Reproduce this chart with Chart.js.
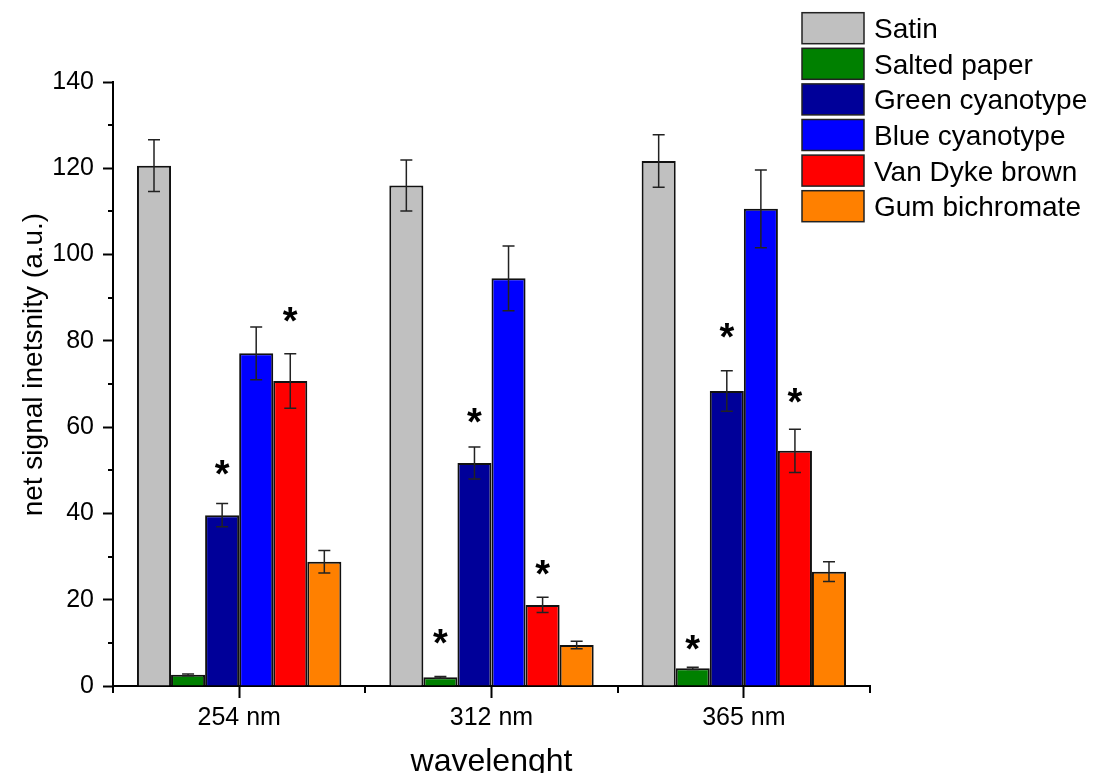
<!DOCTYPE html>
<html>
<head>
<meta charset="utf-8">
<script src="https://cdn.jsdelivr.net/npm/chart.js@4"></script>
<style>
  html, body { margin: 0; padding: 0; background: #ffffff; }
  #wrap { width: 1093px; height: 773px; }
</style>
</head>
<body>
<div id="wrap"><canvas id="c" width="1093" height="773"></canvas></div>
<script>
// ---- data ----
const categories = ['254 nm', '312 nm', '365 nm'];
const seriesNames = ['Satin', 'Salted paper', 'Green cyanotype', 'Blue cyanotype', 'Van Dyke brown', 'Gum bichromate'];
const xTitle = 'wavelenght';
const yTitle = 'net signal inetsnity (a.u.)';

const satin        = [120.6, 116.0, 121.7];
const satinErr     = [6.0, 5.9, 6.1];
const salted       = [2.6, 2.0, 4.1];
const saltedErr    = [0.2, 0.2, 0.25];
const greenCy      = [39.6, 51.7, 68.4];
const greenCyErr   = [2.7, 3.7, 4.7];
const blueCy       = [77.1, 94.5, 110.6];
const blueCyErr    = [6.1, 7.5, 9.0];
const vanDyke      = [70.7, 18.8, 54.5];
const vanDykeErr   = [6.3, 1.75, 5.0];
const gum          = [28.8, 9.5, 26.5];
const gumErr       = [2.6, 0.85, 2.3];

// significance markers: value (a.u.) at which the asterisk sits, null = none
const satinStar    = [null, null, null];
const saltedStar   = [null, 11.4, 10.1];
const greenCyStar  = [50.6, 62.8, 82.4];
const blueCyStar   = [null, null, null];
const vanDykeStar  = [86.0, 27.4, 67.4];
const gumStar      = [null, null, null];

const yTicks = [0, 20, 40, 60, 80, 100, 120, 140];
const yMinorTicks = [10, 30, 50, 70, 90, 110, 130];

const colors = ['#c0c0c0', '#008000', '#000099', '#0000ff', '#ff0000', '#ff8000'];
const values = [satin, salted, greenCy, blueCy, vanDyke, gum];
const errors = [satinErr, saltedErr, greenCyErr, blueCyErr, vanDykeErr, gumErr];
const stars  = [satinStar, saltedStar, greenCyStar, blueCyStar, vanDykeStar, gumStar];

const FONT = '"Liberation Sans", Arial, Helvetica, sans-serif';

const datasets = seriesNames.map((name, i) => ({
  label: name,
  data: values[i],
  errors: errors[i],
  stars: stars[i],
  backgroundColor: colors[i],
  borderColor: '#111111',
  borderWidth: 2,
  borderSkipped: 'start',
  barPercentage: 1.0,
  categoryPercentage: 0.81
}));

// error bars + asterisks
const errorBarPlugin = {
  id: 'errorBars',
  afterDatasetsDraw(chart) {
    const ctx = chart.ctx;
    const y = chart.scales.y;
    ctx.save();
    chart.data.datasets.forEach((ds, di) => {
      const meta = chart.getDatasetMeta(di);
      meta.data.forEach((bar, j) => {
        const v = ds.data[j], e = ds.errors[j];
        const yt = y.getPixelForValue(v + e);
        const yb = y.getPixelForValue(v - e);
        const x = bar.x;
        ctx.strokeStyle = '#222222';
        ctx.lineWidth = 1.5;
        ctx.beginPath();
        ctx.moveTo(x, yt); ctx.lineTo(x, yb);
        ctx.moveTo(x - 6, yt); ctx.lineTo(x + 6, yt);
        ctx.moveTo(x - 6, yb); ctx.lineTo(x + 6, yb);
        ctx.stroke();
        const s = ds.stars[j];
        if (s !== null && s !== undefined) {
          ctx.fillStyle = '#000000';
          ctx.font = 'bold 38px ' + FONT;
          ctx.textAlign = 'center';
          ctx.textBaseline = 'alphabetic';
          const m = ctx.measureText('*');
          const yc = y.getPixelForValue(s);
          const base = yc + (m.actualBoundingBoxAscent - m.actualBoundingBoxDescent) / 2;
          ctx.fillText('*', x, base);
        }
      });
    });
    ctx.restore();
  }
};

// minor ticks + y axis title
const minorTickPlugin = {
  id: 'minorTicks',
  afterDraw(chart) {
    const ctx = chart.ctx;
    const y = chart.scales.y;
    const area = chart.chartArea;
    ctx.save();
    ctx.strokeStyle = '#000000';
    ctx.lineWidth = 2;
    ctx.beginPath();
    yMinorTicks.forEach(v => {
      const py = Math.round(y.getPixelForValue(v));
      ctx.moveTo(area.left, py); ctx.lineTo(area.left - 5, py);
    });
    const n = categories.length;
    const step = (area.right - area.left) / n;
    for (let i = 0; i <= n; i++) {
      const px = Math.round(area.left + i * step);
      ctx.moveTo(px, area.bottom); ctx.lineTo(px, area.bottom + 7);
    }
    ctx.stroke();
    // y axis title
    ctx.translate(34, y.getPixelForValue(74.5));
    ctx.rotate(-Math.PI / 2);
    ctx.fillStyle = '#000000';
    ctx.font = '28px ' + FONT;
    ctx.textAlign = 'center';
    ctx.textBaseline = 'middle';
    ctx.fillText(yTitle, 0, 0);
    ctx.restore();
  }
};

// legend drawn over the upper right corner
const legendPlugin = {
  id: 'cornerLegend',
  afterDraw(chart) {
    const ctx = chart.ctx;
    ctx.save();
    const bx = 802, bw = 62, bh = 31, top = 12.7, step = 35.6;
    chart.data.datasets.forEach((ds, i) => {
      const by = top + i * step;
      ctx.fillStyle = ds.backgroundColor;
      ctx.fillRect(bx, by, bw, bh);
      ctx.strokeStyle = '#222222';
      ctx.lineWidth = 1.5;
      ctx.strokeRect(bx, by, bw, bh);
      ctx.fillStyle = '#000000';
      ctx.font = '28px ' + FONT;
      ctx.textAlign = 'left';
      ctx.textBaseline = 'alphabetic';
      ctx.fillText(ds.label, 874, by + bh / 2 + 10);
    });
    ctx.restore();
  }
};

new Chart(document.getElementById('c'), {
  type: 'bar',
  data: { labels: categories, datasets: datasets },
  plugins: [errorBarPlugin, minorTickPlugin, legendPlugin],
  options: {
    responsive: false,
    animation: false,
    devicePixelRatio: 1,
    layout: { padding: { top: 82, right: 223, left: 0, bottom: 0 } },
    plugins: { legend: { display: false }, tooltip: { enabled: false } },
    scales: {
      x: {
        offset: true,
        grid: { offset: false, drawOnChartArea: false, drawTicks: true, tickLength: 12, tickWidth: 2, tickColor: '#000000' },
        border: { display: true, color: '#000000', width: 2 },
        ticks: { color: '#000000', font: { family: FONT, size: 25 }, padding: 5, maxRotation: 0 },
        title: { display: true, text: xTitle, color: '#000000', font: { family: FONT, size: 32 }, padding: { top: 0, bottom: -8 } },
        afterFit(scale) { scale.height = 87; }
      },
      y: {
        min: 0, max: 140,
        afterBuildTicks(scale) { scale.ticks = yTicks.map(v => ({ value: v })); },
        grid: { drawOnChartArea: false, drawTicks: true, tickLength: 10, tickWidth: 2, tickColor: '#000000' },
        border: { display: true, color: '#000000', width: 2 },
        ticks: { color: '#000000', font: { family: FONT, size: 25 }, padding: 9 },
        title: { display: false },
        afterFit(scale) { scale.width = 113; }
      }
    }
  }
});
</script>
</body>
</html>
